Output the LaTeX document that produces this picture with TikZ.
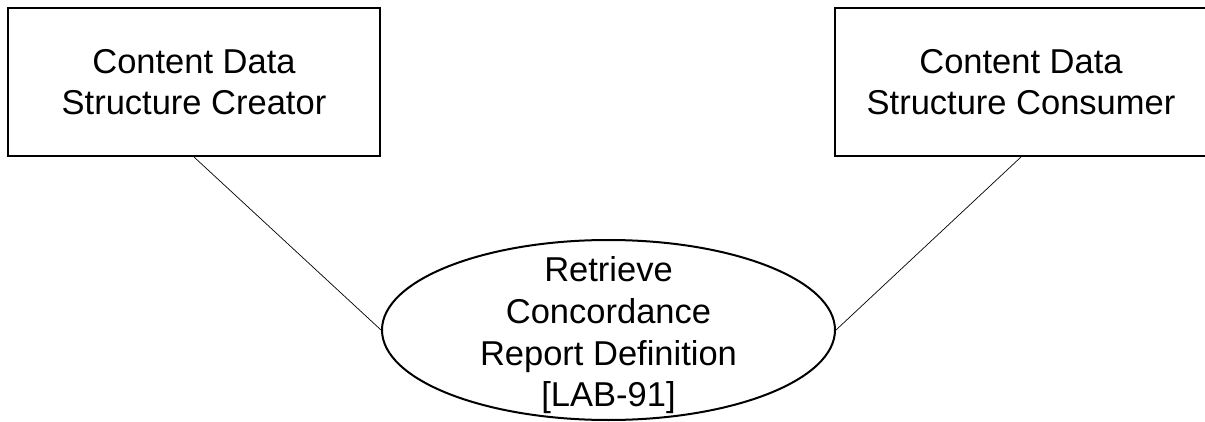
\documentclass[tikz,border=0pt]{standalone}
\usepackage{fontspec}
\setmainfont{Liberation Sans}
\usetikzlibrary{shapes.geometric}
\begin{document}
\begin{tikzpicture}[x=1pt,y=-1pt,
  actor/.style={draw,line width=2pt,minimum width=372pt,minimum height=148pt,inner sep=0pt,
    align=center,font=\fontsize{34.5}{41}\selectfont},
  usecase/.style={draw,line width=2pt,ellipse,minimum width=453pt,minimum height=180pt,inner sep=0pt},
  uctext/.style={align=center,inner sep=0pt,font=\fontsize{34.5}{41.7}\selectfont},
  link/.style={line width=0.7pt}]
\useasboundingbox (0,0) rectangle (1205,422);
\node[actor] (creator) at (194,82) {Content Data\\Structure Creator};
\node[actor] (consumer) at (1021,82) {Content Data\\Structure Consumer};
\node[usecase] (uc) at (608.5,330) {};
\node[uctext] (uclabel) at (608.5,335.5) {Retrieve\\Concordance\\Report Definition\\{[LAB-91]}};
\draw[link] (creator.south) -- (uc.west);
\draw[link] (consumer.south) -- (uc.east);
\end{tikzpicture}
\end{document}
